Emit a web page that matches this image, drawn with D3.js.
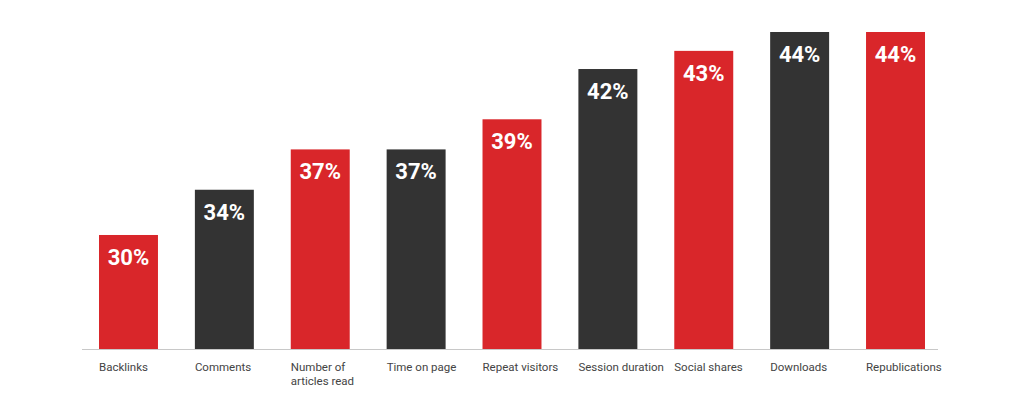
<!DOCTYPE html>
<html>
<head>
<meta charset="utf-8">
<script src="https://cdn.jsdelivr.net/npm/d3@7"></script>
<style>
  html, body { margin: 0; padding: 0; background: #ffffff; }
  svg { display: block; }
</style>
</head>
<body>
<svg id="chart" width="1024" height="406"></svg>
<script>
const categories = ["Backlinks", "Comments", "Number of\narticles read", "Time on page", "Repeat visitors", "Session duration", "Social shares", "Downloads", "Republications"];
const values = [30, 34, 37, 37, 39, 42, 43, 44, 44];
const valueLabels = ["30%", "34%", "37%", "37%", "39%", "42%", "43%", "44%", "44%"];
const barColors = ["#d9262a", "#333333"];

const svg = d3.select("#chart");
const baseline = 349;

const x = d3.scaleBand()
  .domain(categories)
  .range([99, 925])
  .paddingInner(0.385)
  .paddingOuter(0);

const y = d3.scalePow()
  .exponent(2.67)
  .domain([0, 44])
  .range([baseline, 32]);

// axis line
svg.append("line")
  .attr("x1", 82).attr("x2", 938)
  .attr("y1", baseline + 0.5).attr("y2", baseline + 0.5)
  .attr("stroke", "#c8c8c8").attr("stroke-width", 1);

const g = svg.append("g");

g.selectAll("rect.bar")
  .data(values)
  .join("rect")
  .attr("class", "bar")
  .attr("x", (d, i) => x(categories[i]))
  .attr("width", x.bandwidth())
  .attr("y", d => y(d))
  .attr("height", d => baseline - y(d))
  .attr("fill", (d, i) => barColors[i % 2]);

g.selectAll("text.val")
  .data(values)
  .join("text")
  .attr("class", "val")
  .attr("x", (d, i) => x(categories[i]) + x.bandwidth() / 2)
  .attr("y", d => y(d) + 30)
  .attr("text-anchor", "middle")
  .attr("font-family", "Roboto, 'Noto Sans', sans-serif")
  .attr("font-weight", "bold")
  .attr("font-size", 22)
  .attr("fill", "#ffffff")
  .text((d, i) => valueLabels[i]);

const labels = g.selectAll("text.cat")
  .data(categories)
  .join("text")
  .attr("class", "cat")
  .attr("x", d => x(d))
  .attr("y", 371)
  .attr("font-family", "Roboto, 'Noto Sans', sans-serif")
  .attr("font-size", 11.5)
  .attr("fill", "#444444");

labels.each(function(d) {
  const t = d3.select(this);
  d.split("\n").forEach((line, k) => {
    t.append("tspan")
      .attr("x", x(d))
      .attr("dy", k === 0 ? 0 : 13.5)
      .text(line);
  });
});
</script>
</body>
</html>
